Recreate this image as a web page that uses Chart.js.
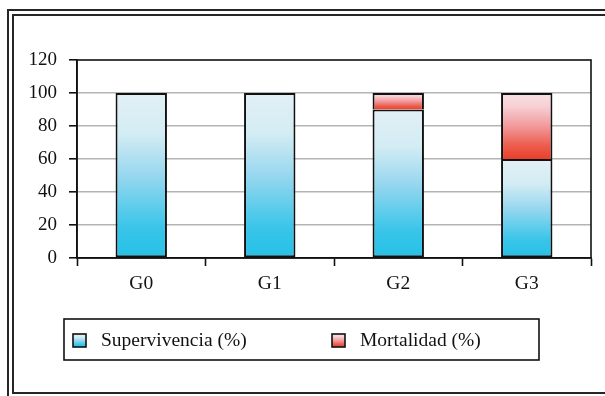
<!DOCTYPE html>
<html>
<head>
<meta charset="utf-8">
<script src="https://cdn.jsdelivr.net/npm/chart.js@4"></script>
<style>
  html, body { margin: 0; padding: 0; background: #fff; }
  #wrap { width: 605px; height: 396px; }
</style>
</head>
<body>
<div id="wrap"><canvas id="c" width="605" height="396"></canvas></div>
<script>
// Survival / mortality per group (percent)
const grupos = ['G0', 'G1', 'G2', 'G3'];
const supervivencia = [100, 100, 90, 60];
const mortalidad = [0, 0, 10, 40];
const etiquetas = ['Supervivencia (%)', 'Mortalidad (%)'];
const yTicks = [0, 20, 40, 60, 80, 100, 120];

const FONT = '"Liberation Serif", "Times New Roman", serif';

// colour stops from the base (0) to the top (1) of each segment
const blueStops = [[0, '#27c0e6'], [0.18, '#38c5e9'], [0.5, '#97d7ef'], [0.75, '#d3ecf4'], [1, '#e2f0f5']];
const redStops = [[0, '#e8402a'], [0.2, '#ec5c4c'], [0.5, '#f29a9c'], [0.8, '#f6d0d4'], [1, '#f8e0e3']];

function vGradient(ctx, yBottom, yTop, stops) {
  if (!isFinite(yBottom) || !isFinite(yTop) || yBottom === yTop) return stops[0][1];
  const g = ctx.createLinearGradient(0, yBottom, 0, yTop);
  stops.forEach(([o, col]) => g.addColorStop(o, col));
  return g;
}

function segmentFill(stops, bases, values) {
  return (c) => {
    const chart = c.chart;
    if (c.type !== 'data' || !chart.chartArea || !chart.scales.y) return stops[0][1];
    const i = c.dataIndex;
    const b = bases[i];
    const t = b + values[i];
    const y = chart.scales.y;
    return vGradient(chart.ctx, y.getPixelForValue(b), y.getPixelForValue(t), stops);
  };
}

// Double frame around the whole figure
const framePlugin = {
  id: 'frame',
  beforeDraw(chart) {
    const ctx = chart.ctx;
    ctx.save();
    ctx.fillStyle = '#fff';
    ctx.fillRect(0, 0, chart.width, chart.height);
    ctx.strokeStyle = '#262626';
    ctx.lineWidth = 2;
    ctx.beginPath();
    // outer
    ctx.moveTo(chart.width + 2, 10); ctx.lineTo(8, 10); ctx.lineTo(8, chart.height + 2);
    // inner
    ctx.moveTo(chart.width + 2, 15); ctx.lineTo(13, 15); ctx.lineTo(13, 393); ctx.lineTo(chart.width + 2, 393);
    ctx.stroke();
    ctx.restore();
  }
};

// Border of the plot area
const plotBorder = {
  id: 'plotBorder',
  afterDatasetsDraw(chart) {
    const {ctx, chartArea: a} = chart;
    ctx.save();
    ctx.strokeStyle = '#111';
    ctx.lineWidth = 1.6;
    ctx.strokeRect(a.left, a.top, a.right - a.left, a.bottom - a.top);
    ctx.restore();
  }
};

// Boxed legend below the axis
const boxLegend = {
  id: 'boxLegend',
  afterDraw(chart) {
    const ctx = chart.ctx;
    const box = {x: 64, y: 319, w: 475, h: 41};
    ctx.save();
    ctx.strokeStyle = '#111';
    ctx.lineWidth = 1.6;
    ctx.strokeRect(box.x, box.y, box.w, box.h);
    const items = [
      {x: 73, stops: blueStops, text: chart.data.datasets[0].label},
      {x: 332, stops: redStops, text: chart.data.datasets[1].label}
    ];
    const cy = box.y + box.h / 2 + 1;
    const s = 13;
    ctx.font = '19.5px ' + FONT;
    ctx.textBaseline = 'middle';
    ctx.textAlign = 'left';
    items.forEach(it => {
      ctx.fillStyle = vGradient(ctx, cy + s / 2, cy - s / 2, it.stops);
      ctx.fillRect(it.x, cy - s / 2, s, s);
      ctx.strokeStyle = '#111';
      ctx.lineWidth = 1.6;
      ctx.strokeRect(it.x, cy - s / 2, s, s);
      ctx.fillStyle = '#111';
      ctx.fillText(it.text, it.x + 28, cy);
    });
    ctx.restore();
  }
};

const zeros = grupos.map(() => 0);

new Chart(document.getElementById('c'), {
  type: 'bar',
  data: {
    labels: grupos,
    datasets: [
      {
        label: etiquetas[0],
        data: supervivencia,
        backgroundColor: segmentFill(blueStops, zeros, supervivencia),
        borderColor: '#111',
        borderWidth: 2,
        borderSkipped: false
      },
      {
        label: etiquetas[1],
        data: mortalidad,
        backgroundColor: segmentFill(redStops, supervivencia, mortalidad),
        borderColor: '#111',
        // the segment below already draws the shared edge
        borderWidth: { top: 2, left: 2, right: 2, bottom: 0 },
        borderSkipped: false
      }
    ]
  },
  options: {
    responsive: false,
    animation: false,
    devicePixelRatio: 1,
    layout: { padding: { top: 60, right: 14, bottom: 98, left: 0 } },
    datasets: { bar: { barPercentage: 0.4, categoryPercentage: 1.0 } },
    plugins: {
      legend: { display: false },
      tooltip: { enabled: false }
    },
    scales: {
      x: {
        stacked: true,
        afterFit: (s) => { s.height = 40; },
        grid: {
          offset: true,
          drawOnChartArea: false,
          tickColor: '#111',
          tickLength: 8,
          tickWidth: 1.6
        },
        border: { color: '#111', width: 1.6 },
        ticks: {
          color: '#111',
          padding: 6,
          font: { family: FONT, size: 19.5 }
        }
      },
      y: {
        stacked: true,
        min: 0,
        max: 120,
        afterFit: (s) => { s.width = 77; },
        afterBuildTicks: (s) => { s.ticks = yTicks.map(v => ({value: v})); },
        grid: {
          color: (c) => (c.tick && (c.tick.value === 0 || c.tick.value === 120)) ? 'rgba(0,0,0,0)' : '#b4b4b4',
          lineWidth: 1.6,
          tickColor: '#111',
          tickLength: 8,
          tickWidth: 1.6
        },
        border: { color: '#111', width: 1.6 },
        ticks: {
          color: '#111',
          padding: 12,
          font: { family: FONT, size: 19 }
        }
      }
    }
  },
  plugins: [framePlugin, plotBorder, boxLegend]
});
</script>
</body>
</html>
